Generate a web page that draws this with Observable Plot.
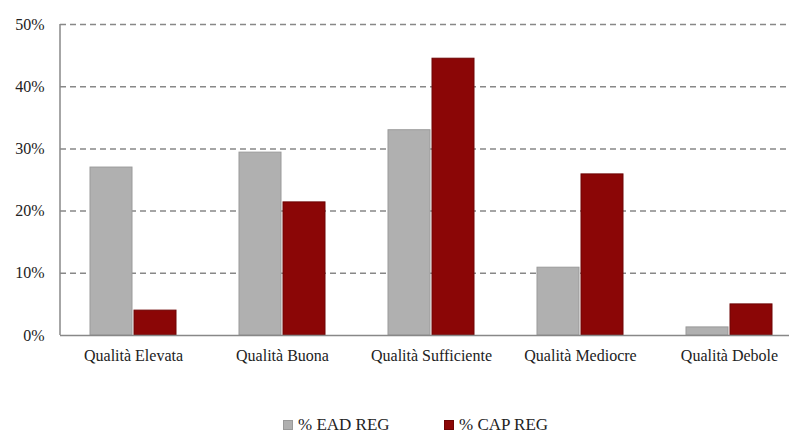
<!DOCTYPE html>
<html>
<head>
<meta charset="utf-8">
<script src="https://cdn.jsdelivr.net/npm/d3@7"></script>
<script src="https://cdn.jsdelivr.net/npm/@observablehq/plot@0.6"></script>
<style>
  html, body { margin: 0; padding: 0; background: #fff; }
  #wrap { width: 789px; height: 433px; position: relative; overflow: hidden; font-family: "Liberation Serif", "Times New Roman", "DejaVu Serif", serif; }
  #chart svg, #chart svg text { font-family: "Liberation Serif", "Times New Roman", "DejaVu Serif", serif !important; }
  #legend { position: absolute; top: 415px; left: 0; width: 789px; height: 20px; font-size: 17px; color: #222; }
  .item { position: absolute; top: 0; display: flex; align-items: center; }
  .sw { width: 10px; height: 10px; margin-right: 5px; box-sizing: border-box; }
</style>
</head>
<body>
<div id="wrap">
  <div id="chart"></div>
  <div id="legend"></div>
</div>
<script>
const categories = ["Qualità Elevata", "Qualità Buona", "Qualità Sufficiente", "Qualità Mediocre", "Qualità Debole"];
const seriesNames = ["% EAD REG", "% CAP REG"];
const eadValues = [27.0, 29.4, 33.0, 10.9, 1.3];
const capValues = [4.0, 21.4, 44.5, 25.9, 5.0];
const yTicks = [0, 10, 20, 30, 40, 50];
const colors = ["#b0b0b0", "#8b0606"];
const strokes = ["#9a9a9a", "#6e0404"];

const ead = categories.map((c, i) => ({category: c, value: eadValues[i]}));
const cap = categories.map((c, i) => ({category: c, value: capValues[i]}));

const plot = Plot.plot({
  width: 789,
  height: 395,
  marginLeft: 60,
  marginRight: 0,
  marginTop: 24,
  marginBottom: 60,
  style: {fontSize: "16px", color: "#222", background: "#fff"},
  x: {domain: categories, range: [57, 805], paddingInner: 0.42, paddingOuter: 0.21, label: null},
  y: {domain: [0, 50], label: null},
  marks: [
    Plot.ruleY(yTicks.filter(d => d > 0), {stroke: "#888", strokeWidth: 1.5, strokeDasharray: "6,4"}),
    Plot.barY(ead, {x: "category", y: "value", fill: colors[0], stroke: strokes[0], strokeWidth: 1, insetRight: 44}),
    Plot.barY(cap, {x: "category", y: "value", fill: colors[1], stroke: strokes[1], strokeWidth: 1, insetLeft: 44}),
    Plot.axisY({ticks: yTicks, tickFormat: d => d + "%", tickSize: 0, tickPadding: 16, label: null}),
    Plot.axisX({tickSize: 0, tickPadding: 14, label: null}),
    Plot.ruleY([0], {stroke: "#888", strokeWidth: 1.5})
  ]
});
document.getElementById("chart").appendChild(plot);

// left axis line drawn from the y scale
const ys = plot.scale("y");
d3.select(plot).append("line")
  .attr("x1", 60).attr("x2", 60)
  .attr("y1", ys.apply(50)).attr("y2", ys.apply(0))
  .attr("stroke", "#888").attr("stroke-width", 1.5);

const legend = document.getElementById("legend");
const lefts = [283, 444];
seriesNames.forEach((name, i) => {
  const it = document.createElement("div");
  it.className = "item";
  it.style.left = lefts[i] + "px";
  const sw = document.createElement("div");
  sw.className = "sw";
  sw.style.background = colors[i];
  sw.style.border = "1px solid " + strokes[i];
  const tx = document.createElement("span");
  tx.textContent = name;
  it.appendChild(sw);
  it.appendChild(tx);
  legend.appendChild(it);
});
</script>
</body>
</html>
